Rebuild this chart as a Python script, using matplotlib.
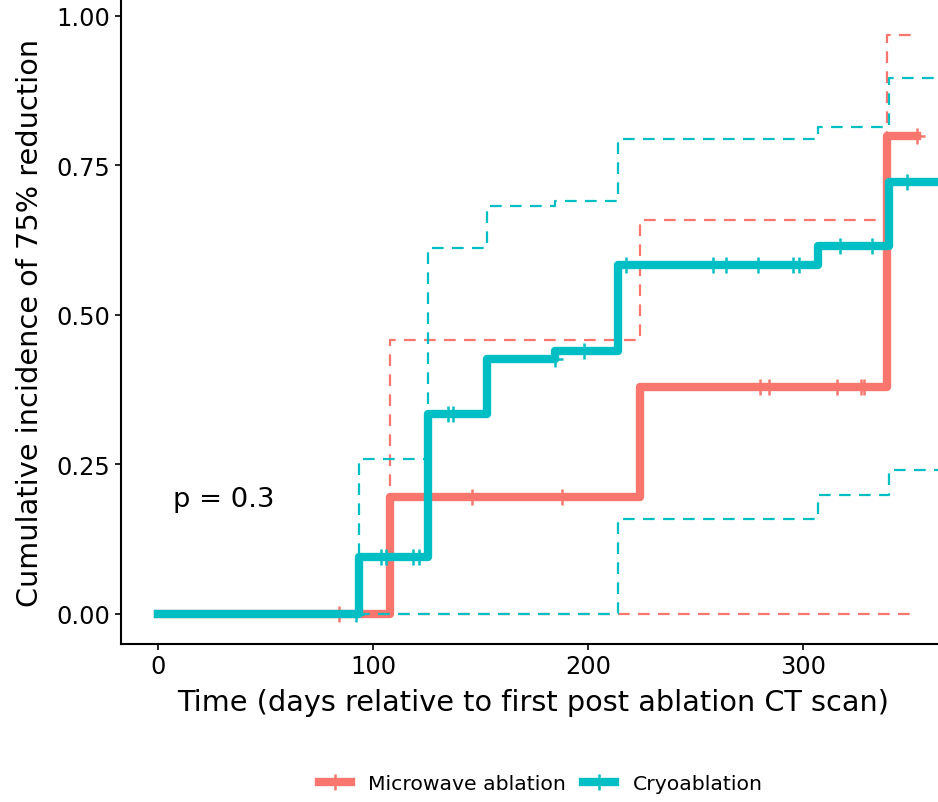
import numpy as np
import matplotlib.pyplot as plt
from matplotlib.lines import Line2D

plt.rcParams['font.family'] = ['DejaVu Sans']

# -----------------------------
# DATA
# -----------------------------

groups = ["Microwave ablation", "Cryoablation"]
colors = ["#F8766D", "#00BFC4"]

# microwave ablation: event times, cumulative incidence and 95% CI
mw_times = [0, 108, 224, 339]
mw_est = [0, 0.195, 0.380, 0.800]
mw_upper = [0, 0.458, 0.659, 0.968]
mw_lower = [0, 0, 0, 0]
mw_end = 353
mw_censor = [84, 146, 188, 280, 284, 316, 327, 328.5, 353]

# cryoablation
cr_times = [0, 93.5, 125.6, 153, 184.7, 214, 306.8, 340]
cr_est = [0, 0.096, 0.334, 0.426, 0.440, 0.584, 0.616, 0.722]
cr_upper = [0, 0.259, 0.612, 0.682, 0.691, 0.794, 0.815, 0.896]
cr_lower = [0, 0, 0, 0, 0, 0.159, 0.199, 0.241]
cr_end = 370
cr_censor = [92, 103.6, 106, 118.5, 121.5, 135, 137, 184.6, 198,
             217.5, 258.3, 264.2, 279.2, 295.5, 298.1, 317.2, 332.1, 348.2]

p_label = "p = 0.3"
x_ticks = [0, 100, 200, 300]
y_ticks = [0, 0.25, 0.50, 0.75, 1.00]
y_ticklabels = ["0.00", "0.25", "0.50", "0.75", "1.00"]


def extend(times, vals, end):
    return list(times) + [end], list(vals) + [vals[-1]]


def value_at(times, vals, t):
    idx = np.searchsorted(times, t, side="right") - 1
    return np.asarray(vals)[idx]


fig = plt.figure(figsize=(9.38, 8.03), dpi=100)
ax = fig.add_axes([121 / 938, 158 / 803, 817 / 938, 645 / 803])

dash = (0, (8.4 / 1.6, 6.0 / 1.6))

series = [
    (mw_times, mw_est, mw_upper, mw_lower, mw_end, mw_censor),
    (cr_times, cr_est, cr_upper, cr_lower, cr_end, cr_censor),
]

z = 2
for (times, est, upper, lower, end, censor), col in zip(series, colors):
    x, y = extend(times, est, end)
    ax.step(x, y, where="post", color=col, lw=6, solid_joinstyle="round",
            zorder=z)
    ax.plot(censor, value_at(times, est, censor), ls="none", marker="+",
            ms=12, mew=1.8, color=col, zorder=z)
    for band in (upper, lower):
        bx, by = extend(times, band, end)
        ax.step(bx, by, where="post", color=col, lw=1.6, linestyle=dash,
                zorder=z + 1)
    z += 2

ax.text(7, 0.192, p_label, fontsize=19.7, ha="left", va="center")

ax.set_xlim(-17.2, 362.8)
ax.set_ylim(-0.0502, 1.0284)
ax.set_xticks(x_ticks)
ax.set_yticks(y_ticks)
ax.set_yticklabels(y_ticklabels)

for side in ["top", "right"]:
    ax.spines[side].set_visible(False)
for side in ["left", "bottom"]:
    ax.spines[side].set_linewidth(1.5)

ax.tick_params(length=4.5, width=1.2, labelsize=17.3, pad=3, colors="black")

ax.set_xlabel("Time (days relative to first post ablation CT scan)",
              fontsize=20.7, va="center")
ax.xaxis.set_label_coords(0.505, -0.09)
ax.set_ylabel("Cumulative incidence of 75% reduction", fontsize=20.7,
              va="center")
ax.yaxis.set_label_coords(-0.111, 0.5)

handles = [Line2D([], [], color=c, lw=6, marker="+", ms=12, mew=1.8)
           for c in colors]
fig.legend(handles, groups, loc="center", bbox_to_anchor=(540.5 / 938, 18 / 803),
           ncol=2, frameon=False, fontsize=14.7, handlelength=1.57,
           handletextpad=0.83, columnspacing=0.88)

fig.savefig("out.png", dpi=100)
